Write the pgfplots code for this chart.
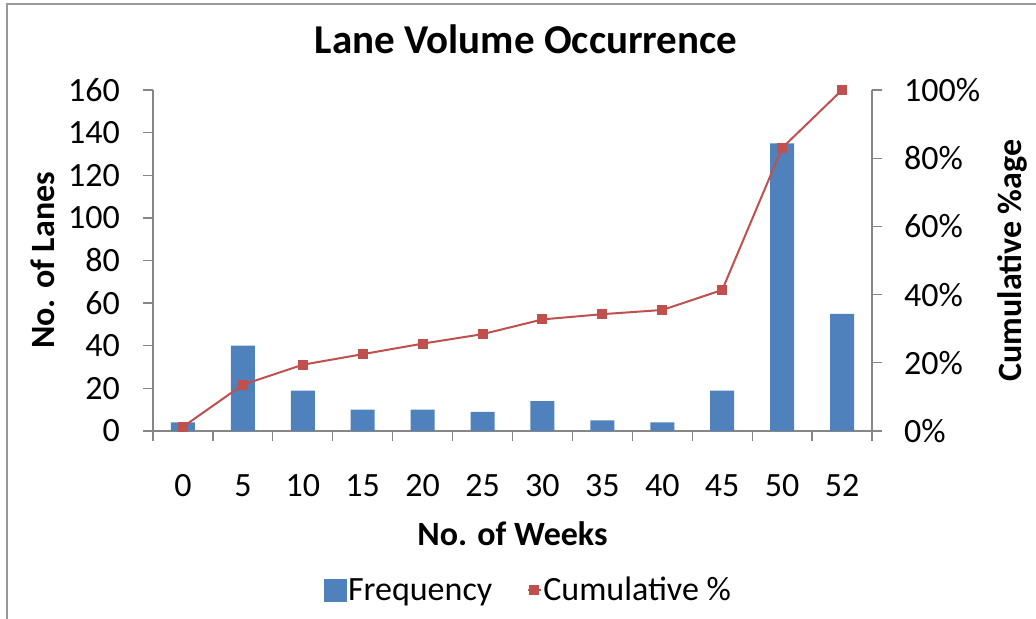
\documentclass[border=0pt]{standalone}
\usepackage{pgfplots}
\pgfplotsset{compat=1.18}
\usepackage{fontspec}
\setmainfont{Carlito}
\definecolor{barblue}{HTML}{4F81BD}
\definecolor{linered}{HTML}{C0504D}
\definecolor{axgray}{HTML}{868686}
\begin{document}
\begin{tikzpicture}
\path[use as bounding box] (0,0) rectangle (1036bp,619bp);
\draw[color=black!40, line width=1.5bp] (7bp,0) -- (7bp,615bp) -- (1036bp,615bp);
\pgfplotsset{
 every axis/.append style={
  scale only axis, width=719bp, height=341bp,
  at={(153bp,188bp)}, anchor=south west,
  xmin=-0.5, xmax=11.5,
  font=\fontsize{34bp}{40bp}\selectfont,
  /pgf/number format/assume math mode=true,
  axis line style={axgray, line width=1.3bp},
  tick style={axgray, line width=1.3bp},
  tick align=outside,
  major tick length=10bp, minor tick length=10bp,
 }
}
\begin{axis}[
  axis y line*=left, axis x line*=bottom,
  ymin=0, ymax=160, ytick={0,20,...,160},
  yticklabel style={inner sep=0pt, anchor=east, xshift=-23bp},
  xtick={0,...,11}, xticklabels={0,5,10,15,20,25,30,35,40,45,50,52},
  minor xtick={-0.5,0.5,...,11.5},
  major x tick style={draw=none},
  xticklabel style={inner sep=0pt, anchor=north, yshift=-33bp},
  ybar, bar width=24bp,
  ylabel={No. of Lanes},
  ylabel style={at={(axis description cs:-0.153,0.5)}, anchor=center, font=\bfseries\fontsize{34bp}{40bp}\selectfont},
  xlabel={No. of Weeks},
  xlabel style={at={(axis description cs:0.5,-0.302)}, anchor=center, font=\bfseries\fontsize{34bp}{40bp}\selectfont},
  title={Lane Volume Occurrence},
  title style={at={(axis description cs:0.519,1.13)}, anchor=center, font=\bfseries\fontsize{41bp}{48bp}\selectfont},
]
\addplot[fill=barblue, draw=none] coordinates {
 (0,4) (1,40) (2,19) (3,10) (4,10) (5,9) (6,14) (7,5) (8,4) (9,19) (10,135) (11,55)
};
\end{axis}
\begin{axis}[
  axis y line*=right, axis x line=none,
  ymin=0, ymax=100, ytick={0,20,...,100},
  yticklabel={\pgfmathprintnumber{\tick}\%},
  yticklabel style={inner sep=0pt, anchor=west, xshift=22bp},
  ylabel={Cumulative \%age},
  ylabel style={at={(axis description cs:1.1947,0.5)}, anchor=center, font=\bfseries\fontsize{34bp}{40bp}\selectfont},
  legend columns=2,
  legend style={at={(axis description cs:0.522,-0.466)}, anchor=center, draw=none, fill=none,
    /tikz/every even column/.append style={column sep=33bp},
    nodes={inner sep=1.5bp}},
]
\addlegendimage{legend image code/.code={\fill[barblue] (0bp,-11bp) rectangle (22bp,11bp);}}
\addlegendentry{Frequency}
\addplot[linered, line width=2bp, mark=square*, mark size=4bp, mark options={solid, fill=linered},
  legend image code/.code={\draw[linered, line width=2bp] (0bp,0bp) -- (13bp,0bp); \fill[linered] (2.5bp,-4bp) rectangle (10.5bp,4bp);}]
 coordinates {
 (0,1.23) (1,13.58) (2,19.44) (3,22.53) (4,25.62) (5,28.40) (6,32.72) (7,34.26) (8,35.49) (9,41.36) (10,83.02) (11,100)
};
\addlegendentry{Cumulative \%}
\end{axis}
\end{tikzpicture}
\end{document}
